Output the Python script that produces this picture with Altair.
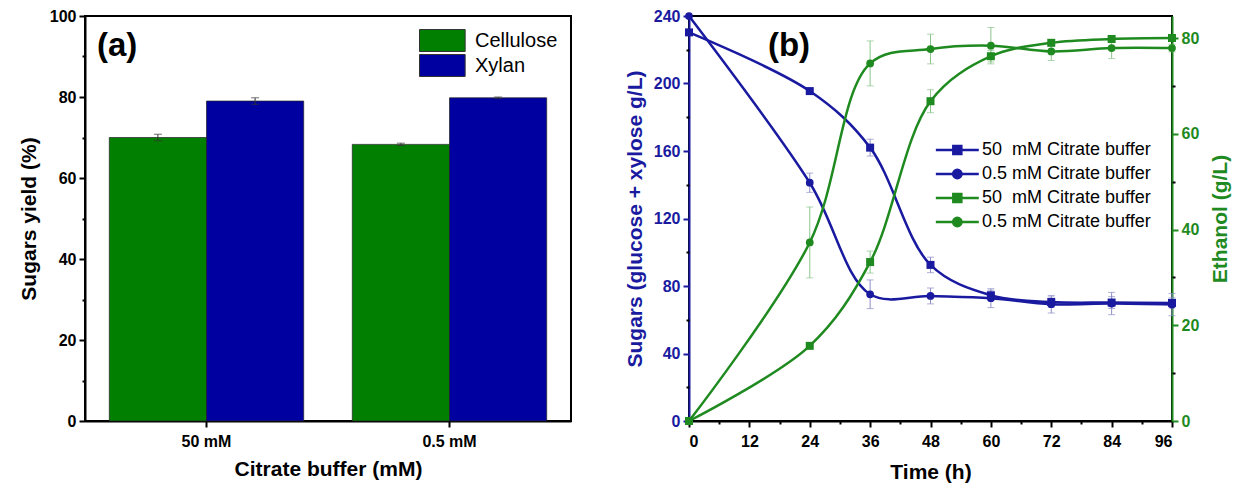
import altair as alt
import pandas as pd

FONT = "Liberation Sans"
BAR_GREEN = "#007F00"
BAR_BLUE = "#0000A0"
LINE_BLUE = "#1A1AA0"
LINE_GREEN = "#1F8A1F"
ERR_BLUE = "#8C8CC8"
ERR_GREEN = "#8CC48C"

# ---------------- panel (a) data ----------------
buffers = ["50 mM", "0.5 mM"]
components = ["Cellulose", "Xylan"]
cellulose_yield = [70.0, 68.3]
cellulose_err = [0.8, 0.3]
xylan_yield = [79.0, 79.8]
xylan_err = [0.8, 0.2]

# ---------------- panel (b) data ----------------
time_h = [0, 24, 36, 48, 60, 72, 84, 96]
sugar_50 = [230.3, 195.5, 162.0, 92.5, 74.5, 70.5, 70.2, 70.0]
sugar_50_err = [0, 1.5, 5.0, 4.6, 3.0, 3.0, 3.5, 3.0]
sugar_05 = [240.0, 141.2, 75.1, 74.1, 72.8, 69.2, 69.6, 69.0]
sugar_05_err = [0, 5.7, 8.5, 4.7, 5.6, 5.2, 6.6, 6.6]
ethanol_50 = [0, 15.7, 33.2, 66.8, 76.2, 79.0, 79.8, 80.0]
ethanol_50_err = [0, 0.5, 2.3, 2.4, 1.2, 0.6, 0.6, 0.5]
ethanol_05 = [0, 37.3, 74.7, 77.7, 78.4, 77.2, 77.9, 77.9]
ethanol_05_err = [0, 7.4, 4.7, 3.1, 3.8, 1.9, 2.2, 0.8]

series_keys = ["s50", "s05", "e50", "e05"]
series_labels = ["50\u00a0 mM Citrate buffer", "0.5 mM Citrate buffer",
                 "50\u00a0 mM Citrate buffer", "0.5 mM Citrate buffer"]
series_colors = [LINE_BLUE, LINE_BLUE, LINE_GREEN, LINE_GREEN]
series_markers = ["square", "circle", "square", "circle"]
series_axis = ["sugar", "sugar", "ethanol", "ethanol"]

# ---------------- tables ----------------
rows_a = []
for comp, vals, errs in [("Cellulose", cellulose_yield, cellulose_err), ("Xylan", xylan_yield, xylan_err)]:
    for b, v, e in zip(buffers, vals, errs):
        rows_a.append({"buffer": b, "component": comp, "yield": v, "lo": v - e, "hi": v + e})
dfa = pd.DataFrame(rows_a)

rows_b = []
for key, mk, ax, vals, errs in zip(series_keys, series_markers, series_axis,
                                   [sugar_50, sugar_05, ethanol_50, ethanol_05],
                                   [sugar_50_err, sugar_05_err, ethanol_50_err, ethanol_05_err]):
    for t, v, e in zip(time_h, vals, errs):
        rows_b.append({"key": key, "marker": mk, "axis": ax, "time": t, "value": v,
                       "err": e, "lo": v - e, "hi": v + e})
dfb = pd.DataFrame(rows_b)


def minor_axis(orient, values):
    return alt.Axis(orient=orient, values=values, labels=False, domain=False, tickSize=3,
                    title=None, grid=False)


# ---------------- panel (a) ----------------
W_A, H = 486, 405
a_scale_x = alt.Scale(paddingInner=0.2, paddingOuter=0.1)
x_a = alt.X("buffer:N", sort=buffers, scale=a_scale_x,
            axis=alt.Axis(title="Citrate buffer (mM)", labelAngle=0, tickSize=6,
                          labelPadding=6, titlePadding=9, orient="bottom"))
x_a_na = alt.X("buffer:N", sort=buffers, scale=a_scale_x, axis=None)
xoff = alt.XOffset("component:N", sort=components,
                   scale=alt.Scale(paddingInner=0, paddingOuter=0))
y_a = alt.Y("yield:Q", scale=alt.Scale(domain=[0, 100], nice=False),
            axis=alt.Axis(title="Sugars yield (%)", values=list(range(0, 101, 20)),
                          tickSize=6, titlePadding=10, orient="left"))

legend_a = alt.Legend(title=None, orient="top-right", offset=13,
                      symbolType="M-1,-1H3.15V1H-1Z", symbolSize=484,
                      symbolStrokeColor="#333333", symbolStrokeWidth=1,
                      labelFont=FONT, labelFontSize=20, labelFontWeight="normal",
                      labelOffset=33, rowPadding=-2, padding=0)

bars = alt.Chart(dfa).mark_bar(stroke="#222222", strokeWidth=0.7).encode(
    x=x_a, xOffset=xoff, y=y_a,
    color=alt.Color("component:N", sort=components,
                    scale=alt.Scale(domain=components, range=[BAR_GREEN, BAR_BLUE]),
                    legend=legend_a))
err_a = alt.Chart(dfa).mark_rule(color="#333333", strokeWidth=1).encode(
    x=x_a_na, xOffset=xoff, y=alt.Y("lo:Q", axis=None), y2="hi:Q")
cap_lo_a = alt.Chart(dfa).mark_tick(orient="horizontal", size=8, thickness=1, color="#333333").encode(
    x=x_a_na, xOffset=xoff, y=alt.Y("lo:Q", axis=None))
cap_hi_a = alt.Chart(dfa).mark_tick(orient="horizontal", size=8, thickness=1, color="#333333").encode(
    x=x_a_na, xOffset=xoff, y=alt.Y("hi:Q", axis=None))
minor_a = alt.Chart(dfa).mark_point(opacity=0).encode(
    y=alt.Y("yield:Q", axis=minor_axis("left", [10, 30, 50, 70, 90])))
lab_a = alt.Chart(pd.DataFrame({"t": ["(a)"]})).mark_text(
    font=FONT, fontSize=33, fontWeight="bold", align="left", baseline="middle").encode(
    text="t:N", x=alt.value(12), y=alt.value(30))

panel_a = alt.layer(bars, err_a, cap_lo_a, cap_hi_a, minor_a, lab_a).resolve_axis(
    x="independent", y="independent").properties(width=W_A, height=H)

# ---------------- panel (b) ----------------
W_B = 483
b_scale_x = alt.Scale(domain=[0, 96], nice=False, zero=False)
x_b = alt.X("time:Q", scale=b_scale_x,
            axis=alt.Axis(title="Time (h)", values=list(range(0, 97, 12)), tickSize=6,
                          labelPadding=6, titlePadding=12, orient="bottom"))
x_b_na = alt.X("time:Q", scale=b_scale_x, axis=None)

sug_axis = alt.Axis(title="Sugars (glucose + xylose g/L)", orient="left",
                    values=list(range(0, 241, 40)), tickSize=6,
                    domainColor=LINE_BLUE, tickColor=LINE_BLUE, labelColor=LINE_BLUE,
                    titleColor=LINE_BLUE, titlePadding=8)
eth_axis = alt.Axis(title="Ethanol (g/L)", orient="right",
                    values=list(range(0, 81, 20)), tickSize=6,
                    domainColor=LINE_GREEN, tickColor=LINE_GREEN, labelColor=LINE_GREEN,
                    titleColor=LINE_GREEN, titlePadding=11, titleAngle=270, titleBaseline="top")

sug_scale = alt.Scale(domain=[0, 240], nice=False)
eth_scale = alt.Scale(domain=[0, 84.6], nice=False)
color_b = alt.Color("key:N", scale=alt.Scale(domain=series_keys, range=series_colors), legend=None)


def group(ax_name, yscale, yaxis, yminor, errcolor, show_x):
    base = alt.Chart(dfb).transform_filter(alt.datum.axis == ax_name)
    lines = base.mark_line(interpolate="catmull-rom", strokeWidth=2.5).encode(
        x=x_b if show_x else x_b_na,
        y=alt.Y("value:Q", scale=yscale, axis=yaxis),
        color=color_b)
    sq = base.transform_filter(alt.datum.marker == "square").mark_point(
        shape="square", filled=True, size=64, opacity=1).encode(
        x=x_b_na, y=alt.Y("value:Q", scale=yscale, axis=None), color=color_b)
    ci = base.transform_filter(alt.datum.marker == "circle").mark_point(
        shape="circle", filled=True, size=60, opacity=1).encode(
        x=x_b_na, y=alt.Y("value:Q", scale=yscale, axis=None), color=color_b)
    eb = base.transform_filter(alt.datum.err > 0)
    rule = eb.mark_rule(color=errcolor, strokeWidth=1).encode(
        x=x_b_na, y=alt.Y("lo:Q", scale=yscale, axis=None), y2="hi:Q")
    c1 = eb.mark_tick(orient="horizontal", size=7, thickness=1, color=errcolor).encode(
        x=x_b_na, y=alt.Y("lo:Q", scale=yscale, axis=None))
    c2 = eb.mark_tick(orient="horizontal", size=7, thickness=1, color=errcolor).encode(
        x=x_b_na, y=alt.Y("hi:Q", scale=yscale, axis=None))
    if show_x:
        minor = base.mark_point(opacity=0).encode(
            x=alt.X("time:Q", scale=b_scale_x,
                    axis=minor_axis("bottom", [6, 18, 30, 42, 54, 66, 78, 90])),
            y=alt.Y("value:Q", scale=yscale, axis=yminor))
        return alt.layer(rule, c1, c2, lines, sq, ci, minor).resolve_axis(
            x="independent", y="independent")
    minor = base.mark_point(opacity=0).encode(
        x=x_b_na, y=alt.Y("value:Q", scale=yscale, axis=yminor))
    return alt.layer(rule, c1, c2, lines, sq, ci, minor).resolve_axis(y="independent")


sugar_group = group("sugar", sug_scale, sug_axis,
                    minor_axis("left", list(range(20, 240, 40))), ERR_BLUE, True)
eth_group = group("ethanol", eth_scale, eth_axis,
                  minor_axis("right", [10, 30, 50, 70]), ERR_GREEN, False)

SQ_PATH = "M-1,0H5M1.44,-0.56H2.56V0.56H1.44Z"
CI_PATH = "M-1,0H5M1.41,0A0.59,0.59 0 1,0 2.59,0A0.59,0.59 0 1,0 1.41,0Z"
label_map = "{" + ",".join(f"'{k}':'{l}'" for k, l in zip(series_keys, series_labels)) + "}"
legend_b = alt.Legend(title=None, orient="none", legendX=849, legendY=125,
                      labelExpr=label_map + "[datum.label]", labelLimit=400,
                      symbolSize=205, symbolStrokeWidth=2.5, symbolOpacity=1,
                      labelFont=FONT, labelFontSize=18, labelFontWeight="normal",
                      labelOffset=30, rowPadding=4, padding=0)
legend_layer = alt.Chart(dfb).transform_filter(alt.datum.time == 0).mark_point(
    filled=True, opacity=0).encode(
    fill=alt.Fill("key:N", scale=alt.Scale(domain=series_keys, range=series_colors), legend=legend_b),
    stroke=alt.Stroke("key:N", scale=alt.Scale(domain=series_keys, range=series_colors), legend=legend_b),
    shape=alt.Shape("key:N", scale=alt.Scale(domain=series_keys,
                                             range=[SQ_PATH, CI_PATH, SQ_PATH, CI_PATH]),
                    legend=legend_b))
lab_b = alt.Chart(pd.DataFrame({"t": ["(b)"]})).mark_text(
    font=FONT, fontSize=33, fontWeight="bold", align="center", baseline="middle").encode(
    text="t:N", x=alt.value(100), y=alt.value(30))

panel_b = alt.layer(sugar_group, eth_group, legend_layer, lab_b).resolve_scale(
    y="independent").properties(width=W_B, height=H)

chart = alt.hconcat(panel_a, panel_b, spacing=51).resolve_scale(
    color="independent", x="independent", y="independent"
).configure(
    padding={"left": 9, "top": -1, "right": 0, "bottom": 0}, font=FONT
).configure_view(stroke="black", strokeWidth=2).configure_axis(
    grid=False, labelFont=FONT, labelFontSize=16, labelFontWeight="bold", labelColor="black",
    titleFont=FONT, titleFontSize=21, titleFontWeight="bold", titleColor="black",
    domainColor="black", domainWidth=2, tickColor="black", tickWidth=2, labelPadding=3
).configure_legend(labelFont=FONT)

chart.save("out.html", embed_options={"renderer": "svg", "actions": False})
